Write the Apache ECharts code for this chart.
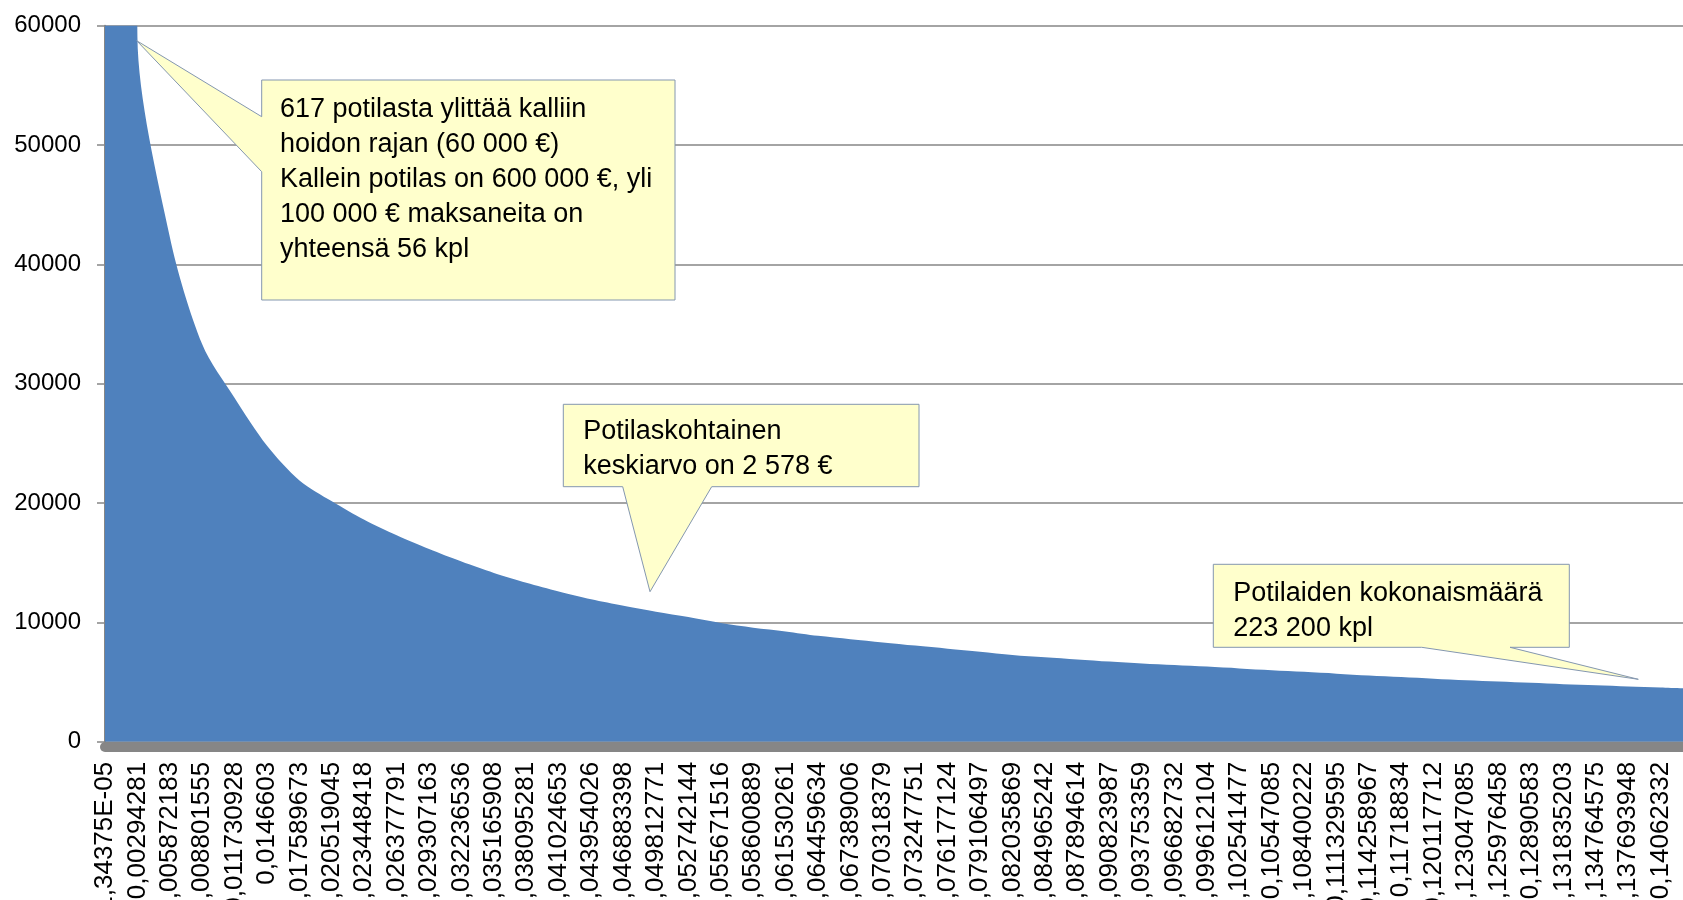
<!DOCTYPE html>
<html>
<head>
<meta charset="utf-8">
<title>Potilaskohtaiset kustannukset</title>
<script src="https://cdn.jsdelivr.net/npm/echarts@6/dist/echarts.min.js"></script>
<style>
html, body { margin: 0; padding: 0; background: #fff; }
#chart { width: 1683px; height: 900px; }
</style>
</head>
<body>
<div id="chart"></div>
<script>
// x-akseli: osuus potilaista (viimeinen piste on kuvan oikea reuna, ei nimikettä)
var categories = [
	'1,34375E-05', '0,00294281', '0,005872183', '0,008801555', '0,011730928',
	'0,0146603', '0,017589673', '0,020519045', '0,023448418', '0,026377791',
	'0,029307163', '0,032236536', '0,035165908', '0,038095281', '0,041024653',
	'0,043954026', '0,046883398', '0,049812771', '0,052742144', '0,055671516',
	'0,058600889', '0,061530261', '0,064459634', '0,067389006', '0,070318379',
	'0,073247751', '0,076177124', '0,079106497', '0,082035869', '0,084965242',
	'0,087894614', '0,090823987', '0,093753359', '0,096682732', '0,099612104',
	'0,102541477', '0,10547085', '0,108400222', '0,111329595', '0,114258967',
	'0,11718834', '0,120117712', '0,123047085', '0,125976458', '0,12890583',
	'0,131835203', '0,134764575', '0,137693948', '0,14062332', ''
];

// kustannus (€) kunkin luokan kohdalla, luettu kuvasta
var costs = [
	600000, 59100, 42300, 33300, 28800, 24800, 21900, 20150, 18600, 17300,
	16150, 15100, 14150, 13330, 12600, 11940, 11400, 10900, 10450, 9950,
	9560, 9250, 8880, 8600, 8330, 8060, 7800, 7550, 7280, 7080,
	6900, 6720, 6570, 6430, 6300, 6150, 6000, 5860, 5710, 5560,
	5430, 5290, 5160, 5050, 4940, 4830, 4740, 4640, 4550, 4450
];

var yMin = 0;
var yMax = 60000;
var yStep = 10000;

var calloutTexts = [
	'617 potilasta ylittää kalliin\nhoidon rajan (60 000 €)\nKallein potilas on 600 000 €, yli\n100 000 € maksaneita on\nyhteensä 56 kpl',
	'Potilaskohtainen\nkeskiarvo on 2 578 €',
	'Potilaiden kokonaismäärä\n223 200 kpl'
];

var font = '"Liberation Sans", Arial, sans-serif';
var gray = '#868686';

function callout(points, text, tx, ty) {
	return {
		type: 'group',
		children: [
			{
				type: 'polygon',
				shape: { points: points },
				style: { fill: '#FFFFCC', stroke: '#8497b0', lineWidth: 1 },
				z: 100
			},
			{
				type: 'text',
				x: tx,
				y: ty,
				style: {
					text: text,
					fill: '#000',
					font: '27px ' + font,
					lineHeight: 35,
					textVerticalAlign: 'top'
				},
				z: 101
			}
		]
	};
}

var option = {
	backgroundColor: '#fff',
	animation: false,
	grid: {
		left: 105,
		right: -10,
		top: 25.7,
		bottom: 158.2,
		containLabel: false,
		outerBoundsMode: 'none'
	},
	xAxis: {
		type: 'category',
		boundaryGap: false,
		data: categories,
		offset: 5,
		axisLine: { show: true, onZero: false, lineStyle: { color: gray, width: 10 } },
		axisTick: { show: false },
		axisLabel: {
			interval: 0,
			rotate: 90,
			margin: 15,
			color: '#000',
			fontSize: 26,
			fontFamily: font
		},
		splitLine: { show: false }
	},
	yAxis: {
		type: 'value',
		min: yMin,
		max: yMax,
		interval: yStep,
		axisLine: { show: true, lineStyle: { color: gray, width: 2 } },
		axisTick: { show: true, length: 8, lineStyle: { color: gray, width: 1.5 } },
		axisLabel: {
			margin: 24,
			color: '#000',
			fontSize: 24,
			fontFamily: font,
			formatter: function (v) { return String(v); }
		},
		splitLine: { lineStyle: { color: gray, width: 1.5 } }
	},
	series: [
		{
			name: 'Kustannus',
			type: 'line',
			data: costs,
			symbol: 'none',
			smooth: 0.3,
			lineStyle: { width: 0 },
			areaStyle: { color: '#4F81BD', opacity: 1 },
			itemStyle: { color: '#4F81BD' },
			clip: true
		}
	],
	graphic: [
		callout(
			[[261.7, 80], [675, 80], [675, 300], [261.7, 300], [261.7, 171.7], [136.7, 40.7], [261.7, 116.7]],
			calloutTexts[0], 280, 92
		),
		callout(
			[[563.3, 404.3], [919, 404.3], [919, 486.7], [711.7, 486.7], [650, 591.7], [622.7, 486.7], [563.3, 486.7]],
			calloutTexts[1], 583.3, 414
		),
		callout(
			[[1213.3, 564.3], [1569.3, 564.3], [1569.3, 647.3], [1510, 647.3], [1638.3, 679.3], [1421.7, 647.3], [1213.3, 647.3]],
			calloutTexts[2], 1233.3, 576
		)
	]
};

var myChart = echarts.init(document.getElementById('chart'));
myChart.setOption(option);
</script>
</body>
</html>
